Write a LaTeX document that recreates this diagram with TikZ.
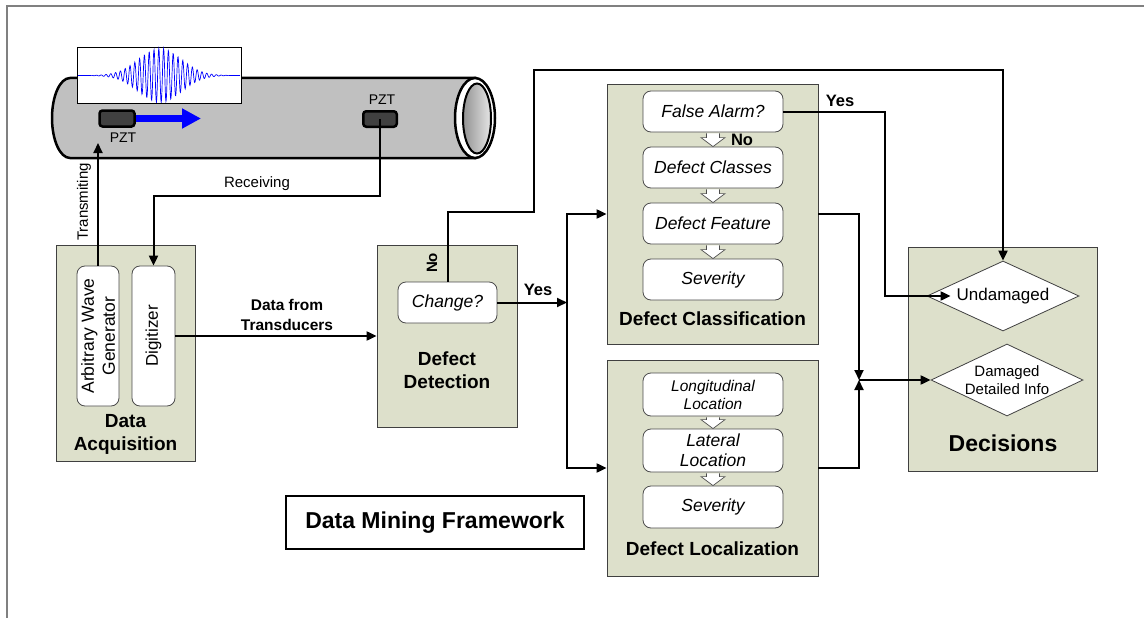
\documentclass[tikz,border=0pt]{standalone}
\usepackage{fontspec}
\setmainfont{Liberation Sans}
\usepackage{tikz}
\usetikzlibrary{arrows.meta, positioning, calc, shapes.geometric}
\definecolor{panelbg}{RGB}{221,224,203}
\definecolor{pipegray}{RGB}{192,192,192}
\definecolor{pztgray}{RGB}{64,64,64}
\definecolor{framegray}{RGB}{128,128,128}
\tikzset{
  >=Triangle,
  % blocchi
  panel/.style={draw=black!75,fill=panelbg,line width=0.8pt,inner sep=0pt},
  task/.style={draw=black!70,fill=white,rounded corners=8pt,line width=0.8pt,
    minimum width=140pt,minimum height=41pt,inner sep=1pt,align=center,
    font=\itshape\fontsize{17.5}{20}\selectfont},
  decide/.style={diamond,draw=black!75,fill=white,line width=0.8pt,
    inner sep=0pt,aspect=2.2,align=center},
  pzt/.style={draw=black,fill=pztgray,line width=2.5pt,rounded corners=3pt},
  % testi
  title/.style={font=\bfseries\fontsize{19}{23}\selectfont,align=center},
  plain/.style={font=\fontsize{15}{18}\selectfont,align=center},
  tag/.style={font=\bfseries\fontsize{16.5}{19}\selectfont},
  % connessioni
  link/.style={line width=2pt,-{Triangle[length=10pt,width=9pt]}},
  flow/.style={draw=black!70,fill=white,line width=0.7pt}
}

\begin{document}
\begin{tikzpicture}[x=1pt,y=-1pt]
  \useasboundingbox (0,0) rectangle (1144,618);
  \draw[framegray,line width=2pt] (6.5,618) -- (6.5,6.5) -- (1144,6.5);

  % pipe
  \draw[line width=2.5pt,fill=pipegray] (70,78) -- (475,78) -- (475,158)
    -- (70,158) arc (90:270:18 and 40) -- cycle;
  \draw[line width=2.5pt,fill=white] (475,118) ellipse (20 and 40);
  \shade[left color=gray!85,right color=gray!20] (477,118.5) ellipse (14 and 35);
  \draw[line width=2pt] (477,118.5) ellipse (14 and 35);

  % excitation signal
  \node[draw,fill=white,line width=0.8pt,inner sep=0pt,
    minimum width=164pt,minimum height=56pt] (wavebox) at (159,75) {};
  \begin{scope}
    \clip (77,47) rectangle (241,103);
    \draw[blue,line width=0.7pt,domain=78:240,samples=480]
      plot (\x,{75.5+27*exp(0-((\x-160)/30)^2)*sin(75*(\x-160))});
  \end{scope}

  % transducers
  \node[pzt,minimum width=35pt,minimum height=16pt] (tx) at (117,118.5) {};
  \node[pzt,minimum width=33.5pt,minimum height=15.5pt] (rx) at (380,119) {};
  \node[font=\fontsize{14}{16}\selectfont] (txname) at (123,138) {PZT};
  \node[font=\fontsize{14}{16}\selectfont] (rxname) at (382,100) {PZT};
  \coordinate (wavetip) at (201,118.5);
  \draw[blue,line width=7pt,-{Triangle[length=19pt,width=19pt]}] (tx.east) -- (wavetip);

  % data acquisition
  \node[panel,minimum width=139pt,minimum height=216pt] (acq) at (125.5,353) {};
  \node[task,font=\fontsize{17.5}{21}\selectfont,rotate=90,
    minimum width=140pt,minimum height=42pt] (awg) at (98,336) {Arbitrary Wave\\Generator};
  \node[task,font=\fontsize{17}{20}\selectfont,rotate=90,
    minimum width=140pt,minimum height=43pt] (dig) at (153.5,336) {Digitizer};
  \node[title] (acqlbl) at (125.5,434) {Data\\Acquisition};

  % defect detection
  \node[panel,minimum width=140pt,minimum height=182pt] (det) at (447,336) {};
  \node[task,minimum width=99pt] (chg) at (447.5,302.5) {Change?};
  \node[title] (detlbl) at (447,370) {Defect\\Detection};

  % defect classification
  \node[panel,minimum width=211pt,minimum height=260pt] (cls) at (712.5,214) {};
  \node[task] (fa) at (713,111.5) {False Alarm?};
  \node[task] (dc) at (713,167.5) {Defect Classes};
  \node[task] (df) at (713,223.5) {Defect Feature};
  \node[task] (sv1) at (713,279.5) {Severity};
  \node[title] (clslbl) at (712.5,319) {Defect Classification};

  % defect localization
  \node[panel,minimum width=211pt,minimum height=216pt] (loc) at (712.5,468) {};
  \node[task,font=\itshape\fontsize{15.5}{18}\selectfont,minimum height=43pt] (ll) at (713,394.5) {Longitudinal\\Location};
  \node[task,minimum height=43pt] (lat) at (713,450.5) {Lateral\\Location};
  \node[task,minimum height=42pt] (sv2) at (713,507) {Severity};
  \node[title] (loclbl) at (712.5,549) {Defect Localization};

  % decisions
  \node[panel,minimum width=189pt,minimum height=224pt] (dec) at (1002.5,359) {};
  \node[decide,minimum width=152pt,minimum height=70pt,
    font=\fontsize{17}{20}\selectfont] (und) at (1003,296) {Undamaged};
  \node[decide,minimum width=152pt,minimum height=72pt,
    font=\fontsize{15}{18}\selectfont] (dmg) at (1007,380) {Damaged\\Detailed Info};
  \node[title,font=\bfseries\fontsize{23}{27}\selectfont] (declbl) at (1003,443) {Decisions};

  \node[draw,line width=1.5pt,minimum width=298pt,minimum height=53pt,
    font=\bfseries\fontsize{23}{27}\selectfont] (dmf) at (435,522.5) {Data Mining Framework};

  % hollow arrows between the steps
  \foreach \a/\b in {fa/dc,dc/df,df/sv1,ll/lat,lat/sv2}
    \draw[flow] ($(\a.south)+(-6.5,1)$) -- ($(\b.north)+(-6.5,-9)$)
      -- ($(\b.north)+(-12,-9)$) -- (\b.north) -- ($(\b.north)+(12,-9)$)
      -- ($(\b.north)+(6.5,-9)$) -- ($(\a.south)+(6.5,1)$);
  \node[tag] (nofa) at (742,140) {No};

  % signal paths
  \coordinate (txin) at (98,143);
  \draw[link] (awg.east) -- (txin);
  \node[plain,rotate=90] (txlbl) at (84,202) {Transmiting};
  \draw[link] (rx.center) |- ($(dig.east)+(0,-70)$) -- (dig.east);
  \node[plain] (rxlbl) at (257,184) {Receiving};
  \draw[link] (dig.south) -- (det.west);
  \node[title,font=\bfseries\fontsize{15.5}{20}\selectfont] (datalbl) at (287,315) {Data from\\Transducers};

  % decisions flow
  \coordinate (split) at (567,302.5);
  \coordinate (merge) at (859,380);
  \coordinate (ceil) at (534,70);
  \draw[link] (chg.east) -- (split);
  \node[tag] (yeschg) at (538,290) {Yes};
  \draw[link] (split) |- (cls.west);
  \draw[link] (split) |- (loc.west);
  \draw[link] (chg.north) |- (534,212) -- (ceil) -| (und.north);
  \node[tag,font=\bfseries\fontsize{15}{18}\selectfont,rotate=90] (nochg) at (432,263) {No};
  \draw[link] (fa.east) -| ($(und.west)+(-42,0)$) -- ($(und.west)+(24,0)$);
  \node[tag] (yesfa) at (840,101) {Yes};
  \draw[link] (cls.east) -| (merge);
  \draw[link] (loc.east) -| (merge);
  \draw[link] (merge) -- (dmg.west);
\end{tikzpicture}
\end{document}
